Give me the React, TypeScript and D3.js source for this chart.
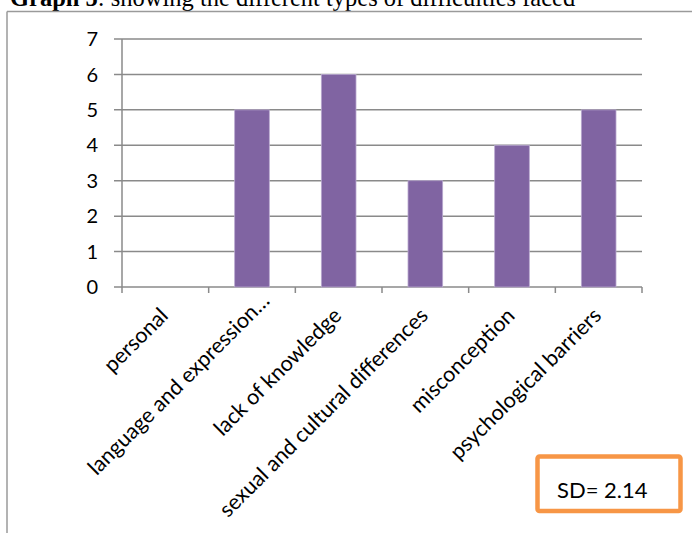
import React from "react";
import * as d3 from "d3";

const categories = [
  "personal",
  "language and expression…",
  "lack of knowledge",
  "sexual and cultural differences",
  "misconception",
  "psychological barriers",
];
const values = [0, 5, 6, 3, 4, 5];
const yTicks = [0, 1, 2, 3, 4, 5, 6, 7];
const sdLabel = "SD= 2.14";

const W = 692;
const H = 533;
const FONT = "Lato, 'Open Sans', sans-serif";

export default function App() {
  const x = d3.scaleBand<string>().domain(categories).range([122, 642]).paddingInner(0).paddingOuter(0);
  const y = d3.scaleLinear().domain([0, 7]).range([287, 39]);
  const bw = x.bandwidth() * 0.4;
  const grid = "#8a8a8a";

  return (
    <div style={{ position: "absolute", left: 0, top: 0 }}>
      <svg width={W} height={H} style={{ display: "block", background: "#fff" }}>
        <text x={10} y={6} fontFamily="'Liberation Serif', 'Times New Roman', serif" fontSize={24.5} fill="#000">
          <tspan fontWeight="bold">Graph 5</tspan>
          <tspan>: showing the different types of difficulties faced</tspan>
        </text>
        <line x1={7} x2={W} y1={11.5} y2={11.5} stroke="#9a9a9a" strokeWidth={1.5} />
        <line x1={7} x2={7} y1={11.5} y2={H} stroke="#9a9a9a" strokeWidth={1.5} />

        {yTicks.map((t) => (
          <g key={t}>
            <line x1={114} x2={642} y1={y(t)} y2={y(t)} stroke={grid} strokeWidth={1.5} />
            <text x={98} y={y(t)} dy="0.36em" textAnchor="end" fontFamily={FONT} fontSize={20} fill="#000">
              {t}
            </text>
          </g>
        ))}
        <line x1={122} x2={122} y1={y(7)} y2={y(0)} stroke={grid} strokeWidth={1.5} />
        {[...categories.map((c) => x(c)!), 642].map((px, i) => (
          <line key={i} x1={px} x2={px} y1={y(0)} y2={y(0) + 6} stroke={grid} strokeWidth={1.5} />
        ))}

        {categories.map((c, i) => (
          <rect
            key={c}
            x={x(c)! + x.bandwidth() / 2 - bw / 2}
            y={y(values[i])}
            width={bw}
            height={y(0) - y(values[i])}
            fill="#8064A2"
            stroke="#b9a9d0"
            strokeWidth={values[i] > 0 ? 0.8 : 0}
          />
        ))}

        {categories.map((c) => {
          const shift = c.endsWith("…") ? 15 : 0;
          const cx = x(c)! + x.bandwidth() / 2 + 4 + shift;
          const cy = y(0) + 30 - shift;
          return (
            <text
              key={c}
              transform={`translate(${cx},${cy}) rotate(-45)`}
              textAnchor="end"
              fontFamily={FONT}
              fontSize={21.5}
              fill="#000"
            >
              {c}
            </text>
          );
        })}

        <rect x={537.5} y={456.5} width={143} height={54.5} rx={2} fill="#fff" stroke="#F79646" strokeWidth={4.5} />
        <text x={557} y={498} fontFamily={FONT} fontSize={22} fill="#000">
          {sdLabel}
        </text>
      </svg>
    </div>
  );
}
